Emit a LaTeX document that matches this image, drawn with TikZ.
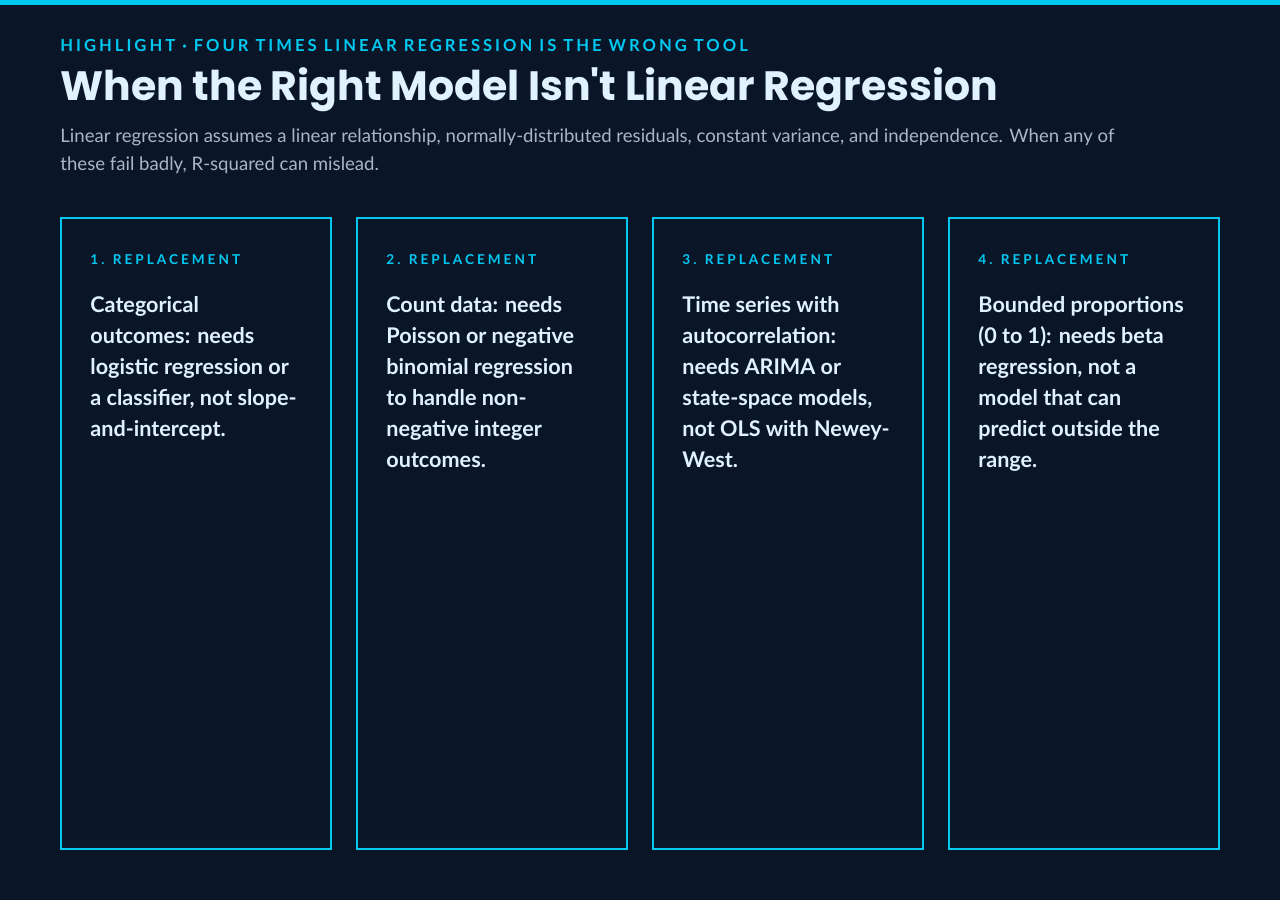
\documentclass[tikz,border=0pt]{standalone}
\usepackage{fontspec}
\setmainfont{Lato}
\newfontfamily\headfont{Poppins}
\usetikzlibrary{positioning}
\definecolor{bgnavy}{HTML}{0A1628}
\definecolor{accent}{HTML}{00C8F0}
\definecolor{paletext}{HTML}{E0F2FE}
\definecolor{subgray}{HTML}{A8B6C6}
\tikzset{
  card/.style={draw=accent,line width=1pt},
  tag/.style={anchor=west,inner sep=0,text=accent,font=\fontsize{6.8}{8}\selectfont\bfseries\addfontfeature{LetterSpace=22}},
  body/.style={anchor=north west,inner sep=0,text=paletext,align=left,
    font=\fontsize{10.8}{15.5}\selectfont\bfseries}
}
\begin{document}
\begin{tikzpicture}[x=0.5pt,y=-0.5pt]
% Canvas
\fill[bgnavy] (0,0) rectangle (1280,900);
\fill[accent] (0,0) rectangle (1280,5);
\useasboundingbox (0,0) rectangle (1280,900);

% Header
\node[anchor=west,inner sep=0,text=accent,font=\fontsize{8.3}{10}\selectfont\bfseries\addfontfeature{LetterSpace=18}]
  (kicker) at (60,45) {HIGHLIGHT · FOUR TIMES LINEAR REGRESSION IS THE WRONG TOOL};
\node[anchor=west,inner sep=0,text=paletext,font=\headfont\fontsize{20.5}{24}\selectfont\bfseries]
  (title) at (60,90) {When the Right Model Isn't Linear Regression};
\node[anchor=north west,inner sep=0,text=subgray,align=left,font=\fontsize{9.3}{14}\selectfont]
  (intro) at (60,128) {Linear regression assumes a linear relationship, normally-distributed residuals, constant variance, and independence. When any of\\these fail badly, R-squared can mislead.};

% Cards
\foreach \i/\txt in {
  1/{Categorical\\outcomes: needs\\logistic regression or\\a classifier, not slope-\\and-intercept.},
  2/{Count data: needs\\Poisson or negative\\binomial regression\\to handle non-\\negative integer\\outcomes.},
  3/{Time series with\\autocorrelation:\\needs ARIMA or\\state-space models,\\not OLS with Newey-\\West.},
  4/{Bounded proportions\\(0 to 1): needs beta\\regression, not a\\model that can\\predict outside the\\range.}} {
  \draw[card] ({61+296*(\i-1)},218) rectangle ({331+296*(\i-1)},849);
  \node[tag] (tag\i) at ({90+296*(\i-1)},260) {\i. REPLACEMENT};
  \node[body] (note\i) at ({90+296*(\i-1)},296) {\txt};
}

\end{tikzpicture}
\end{document}
